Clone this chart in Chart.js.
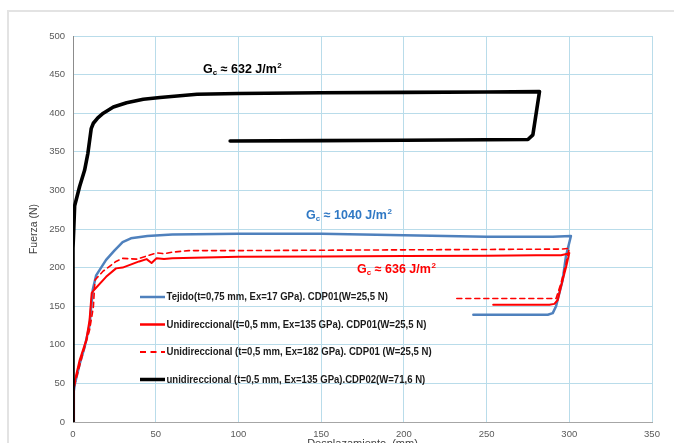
<!DOCTYPE html>
<html>
<head>
<meta charset="utf-8">
<script src="https://cdn.jsdelivr.net/npm/chart.js@4.4.0/dist/chart.umd.min.js"></script>
<style>
  html, body { margin: 0; padding: 0; background: #fff; overflow: hidden; }
  #frame { position: absolute; left: 7px; top: 10px; width: 700px; height: 460px;
           border-left: 2px solid #e3e3e3; border-top: 2px solid #e3e3e3; }
  #wrap { position: absolute; left: 0; top: 0; width: 674px; height: 455px; }
</style>
</head>
<body>
<div id="frame"></div>
<div id="wrap"><canvas id="myChart" width="674" height="455"></canvas></div>
<script>
// Tejido (t=0,75 mm) CDP01
const tejidoX = [0, 0.5, 1.2, 4, 7, 10, 12, 14, 20, 25, 30, 35, 45, 60, 100, 150, 200, 250, 290, 301, 298, 296, 292, 290, 287, 242];
const tejidoY = [0, 40, 50, 75, 97, 125, 172, 190, 210, 222, 233, 238, 241, 243, 244, 244, 242, 240, 240, 241, 215, 184, 150, 141, 139, 139];

// Unidireccional 135 GPa CDP01
const uni135X = [0, 0.5, 1.2, 4, 8, 10, 11.3, 12.3, 20, 26, 30, 40, 44.5, 47.5, 50.5, 55, 60, 80, 100, 150, 200, 250, 280, 295, 299, 300, 298, 296, 293, 291, 288, 254];
const uni135Y = [0, 45, 54, 80, 106, 132, 167, 170, 188, 199, 200, 208, 211, 206, 212, 211, 212, 213, 214, 214.5, 215, 215.5, 216, 216, 218, 219, 200, 184, 158, 153, 152, 152];

// Unidireccional 182 GPa CDP01 (discontinua)
const uni182X = [0, 0.5, 1.2, 6, 10, 12.3, 13.3, 18, 26, 30, 38.5, 44.5, 50.5, 55, 60, 70, 100, 150, 200, 250, 296, 300, 298, 295, 292, 230];
const uni182Y = [0, 42, 50, 89, 119, 149, 184, 195, 208, 212, 211, 215, 219, 218, 220, 222, 222, 222.5, 223, 223.5, 224, 225, 205, 180, 160, 160];

// unidireccional 135 GPa CDP02
const cdp02X = [0, 0, 1, 4, 7, 9, 11, 12.3, 15, 18.3, 24.4, 32.4, 42.5, 52.6, 75, 100, 150, 200, 250, 282, 278, 275, 200, 150, 95];
const cdp02Y = [0, 225, 280, 305, 326, 348, 380, 387, 394, 400, 408, 413.5, 418, 420.4, 424.5, 425.5, 426.5, 427, 427.5, 428, 372, 366, 365, 364.5, 364];

const xTicks = [0, 50, 100, 150, 200, 250, 300, 350];
const yTicks = [0, 50, 100, 150, 200, 250, 300, 350, 400, 450, 500];

const legendLabels = [
  'Tejido(t=0,75 mm, Ex=17 GPa). CDP01(W=25,5 N)',
  'Unidireccional(t=0,5 mm, Ex=135 GPa). CDP01(W=25,5 N)',
  'Unidireccional (t=0,5 mm, Ex=182 GPa). CDP01 (W=25,5 N)',
  'unidireccional (t=0,5 mm, Ex=135 GPa).CDP02(W=71,6 N)'
];

// energy notes: value text, position in data units, colour
const noteText = ['632', '1040', '636'];
const noteX = [78.6, 140.9, 171.7];
const noteY = [456, 266.8, 197];
const noteColor = ['#000000', '#2f78c4', '#ff0000'];

function pts(xs, ys) {
  return xs.map((x, i) => ({ x: x, y: ys[i] }));
}

const notesPlugin = {
  id: 'notes',
  afterDraw(chart) {
    const ctx = chart.ctx;
    const a = chart.chartArea;
    const xs = chart.scales.x, ys = chart.scales.y;
    ctx.save();

    // legend inside the plot
    const lx = a.left + 67;
    chart.data.datasets.forEach(function (ds, i) {
      const ly = a.top + 261 + i * 27.5;
      ctx.beginPath();
      ctx.strokeStyle = ds.borderColor;
      ctx.lineWidth = ds.legendWidth;
      ctx.setLineDash(ds.legendDash || []);
      ctx.moveTo(lx, ly);
      ctx.lineTo(lx + 25, ly);
      ctx.stroke();
      ctx.setLineDash([]);
      // condensed bold text
      ctx.save();
      ctx.translate(lx + 26.5, ly);
      ctx.scale(0.87, 1);
      ctx.fillStyle = '#1a1a1a';
      ctx.font = 'bold 11px "Liberation Sans", Arial, sans-serif';
      ctx.textBaseline = 'middle';
      ctx.textAlign = 'left';
      ctx.fillText(legendLabels[i], 0, 0);
      ctx.restore();
    });

    // G_c notes
    noteText.forEach(function (t, i) {
      let x = xs.getPixelForValue(noteX[i]);
      const y = ys.getPixelForValue(noteY[i]);
      ctx.fillStyle = noteColor[i];
      ctx.textBaseline = 'middle';
      ctx.textAlign = 'left';
      ctx.font = 'bold 12.5px "Liberation Sans", Arial, sans-serif';
      ctx.fillText('G', x, y);
      x += ctx.measureText('G').width;
      ctx.font = 'bold 8px "Liberation Sans", Arial, sans-serif';
      ctx.fillText('c', x, y + 3);
      x += ctx.measureText('c').width;
      ctx.font = 'bold 12.5px "Liberation Sans", Arial, sans-serif';
      const s = ' \u2248 ' + t + ' J/m';
      ctx.fillText(s, x, y);
      x += ctx.measureText(s).width;
      ctx.font = 'bold 8px "Liberation Sans", Arial, sans-serif';
      ctx.fillText('2', x + 0.5, y - 4);
    });
    ctx.restore();
  }
};

new Chart('myChart', {
  type: 'scatter',
  data: {
    datasets: [
      { data: pts(tejidoX, tejidoY), borderColor: '#4f81bd', borderWidth: 2.5, legendWidth: 2.5, order: 3 },
      { data: pts(uni135X, uni135Y), borderColor: '#ff0000', borderWidth: 2, legendWidth: 2.5, order: 2 },
      { data: pts(uni182X, uni182Y), borderColor: '#ff0000', borderWidth: 1.6, borderDash: [5, 4], legendDash: [6, 4.5], legendWidth: 2, order: 1 },
      { data: pts(cdp02X, cdp02Y), borderColor: '#000000', borderWidth: 3.6, legendWidth: 3.5, order: 0 }
    ]
  },
  options: {
    responsive: false,
    animation: false,
    showLine: true,
    elements: { point: { radius: 0 }, line: { tension: 0, borderCapStyle: 'round', borderJoinStyle: 'round' } },
    layout: { padding: { left: 0, right: 22, top: 36, bottom: 0 } },
    plugins: { legend: { display: false }, tooltip: { enabled: false } },
    scales: {
      x: {
        type: 'linear', min: 0, max: 350,
        afterBuildTicks: function (s) { s.ticks = xTicks.map(v => ({ value: v })); },
        afterFit: function (s) { s.height = 33; },
        grid: { color: '#b9dcea', drawTicks: false },
        border: { color: '#a6a6a6', width: 1 },
        ticks: { padding: 7, color: '#595959', font: { family: '"Liberation Sans", sans-serif', size: 9.5 } },
        title: { display: true, text: 'Desplazamiento  (mm)', color: '#404040', padding: { top: 0, bottom: 4 },
                 font: { family: '"Liberation Sans", Arial, sans-serif', size: 11 } }
      },
      y: {
        type: 'linear', min: 0, max: 500,
        afterBuildTicks: function (s) { s.ticks = yTicks.map(v => ({ value: v })); },
        afterFit: function (s) { s.width = 73; },
        grid: { color: '#b9dcea', drawTicks: false },
        border: { color: '#8c8c8c', width: 1 },
        ticks: { padding: 8, color: '#595959', font: { family: '"Liberation Sans", sans-serif', size: 9.5 } },
        title: { display: true, text: 'Fuerza (N)', color: '#404040', padding: { top: 28, bottom: 0 },
                 font: { family: '"Liberation Sans", Arial, sans-serif', size: 10.5 } }
      }
    }
  },
  plugins: [notesPlugin]
});
</script>
</body>
</html>
